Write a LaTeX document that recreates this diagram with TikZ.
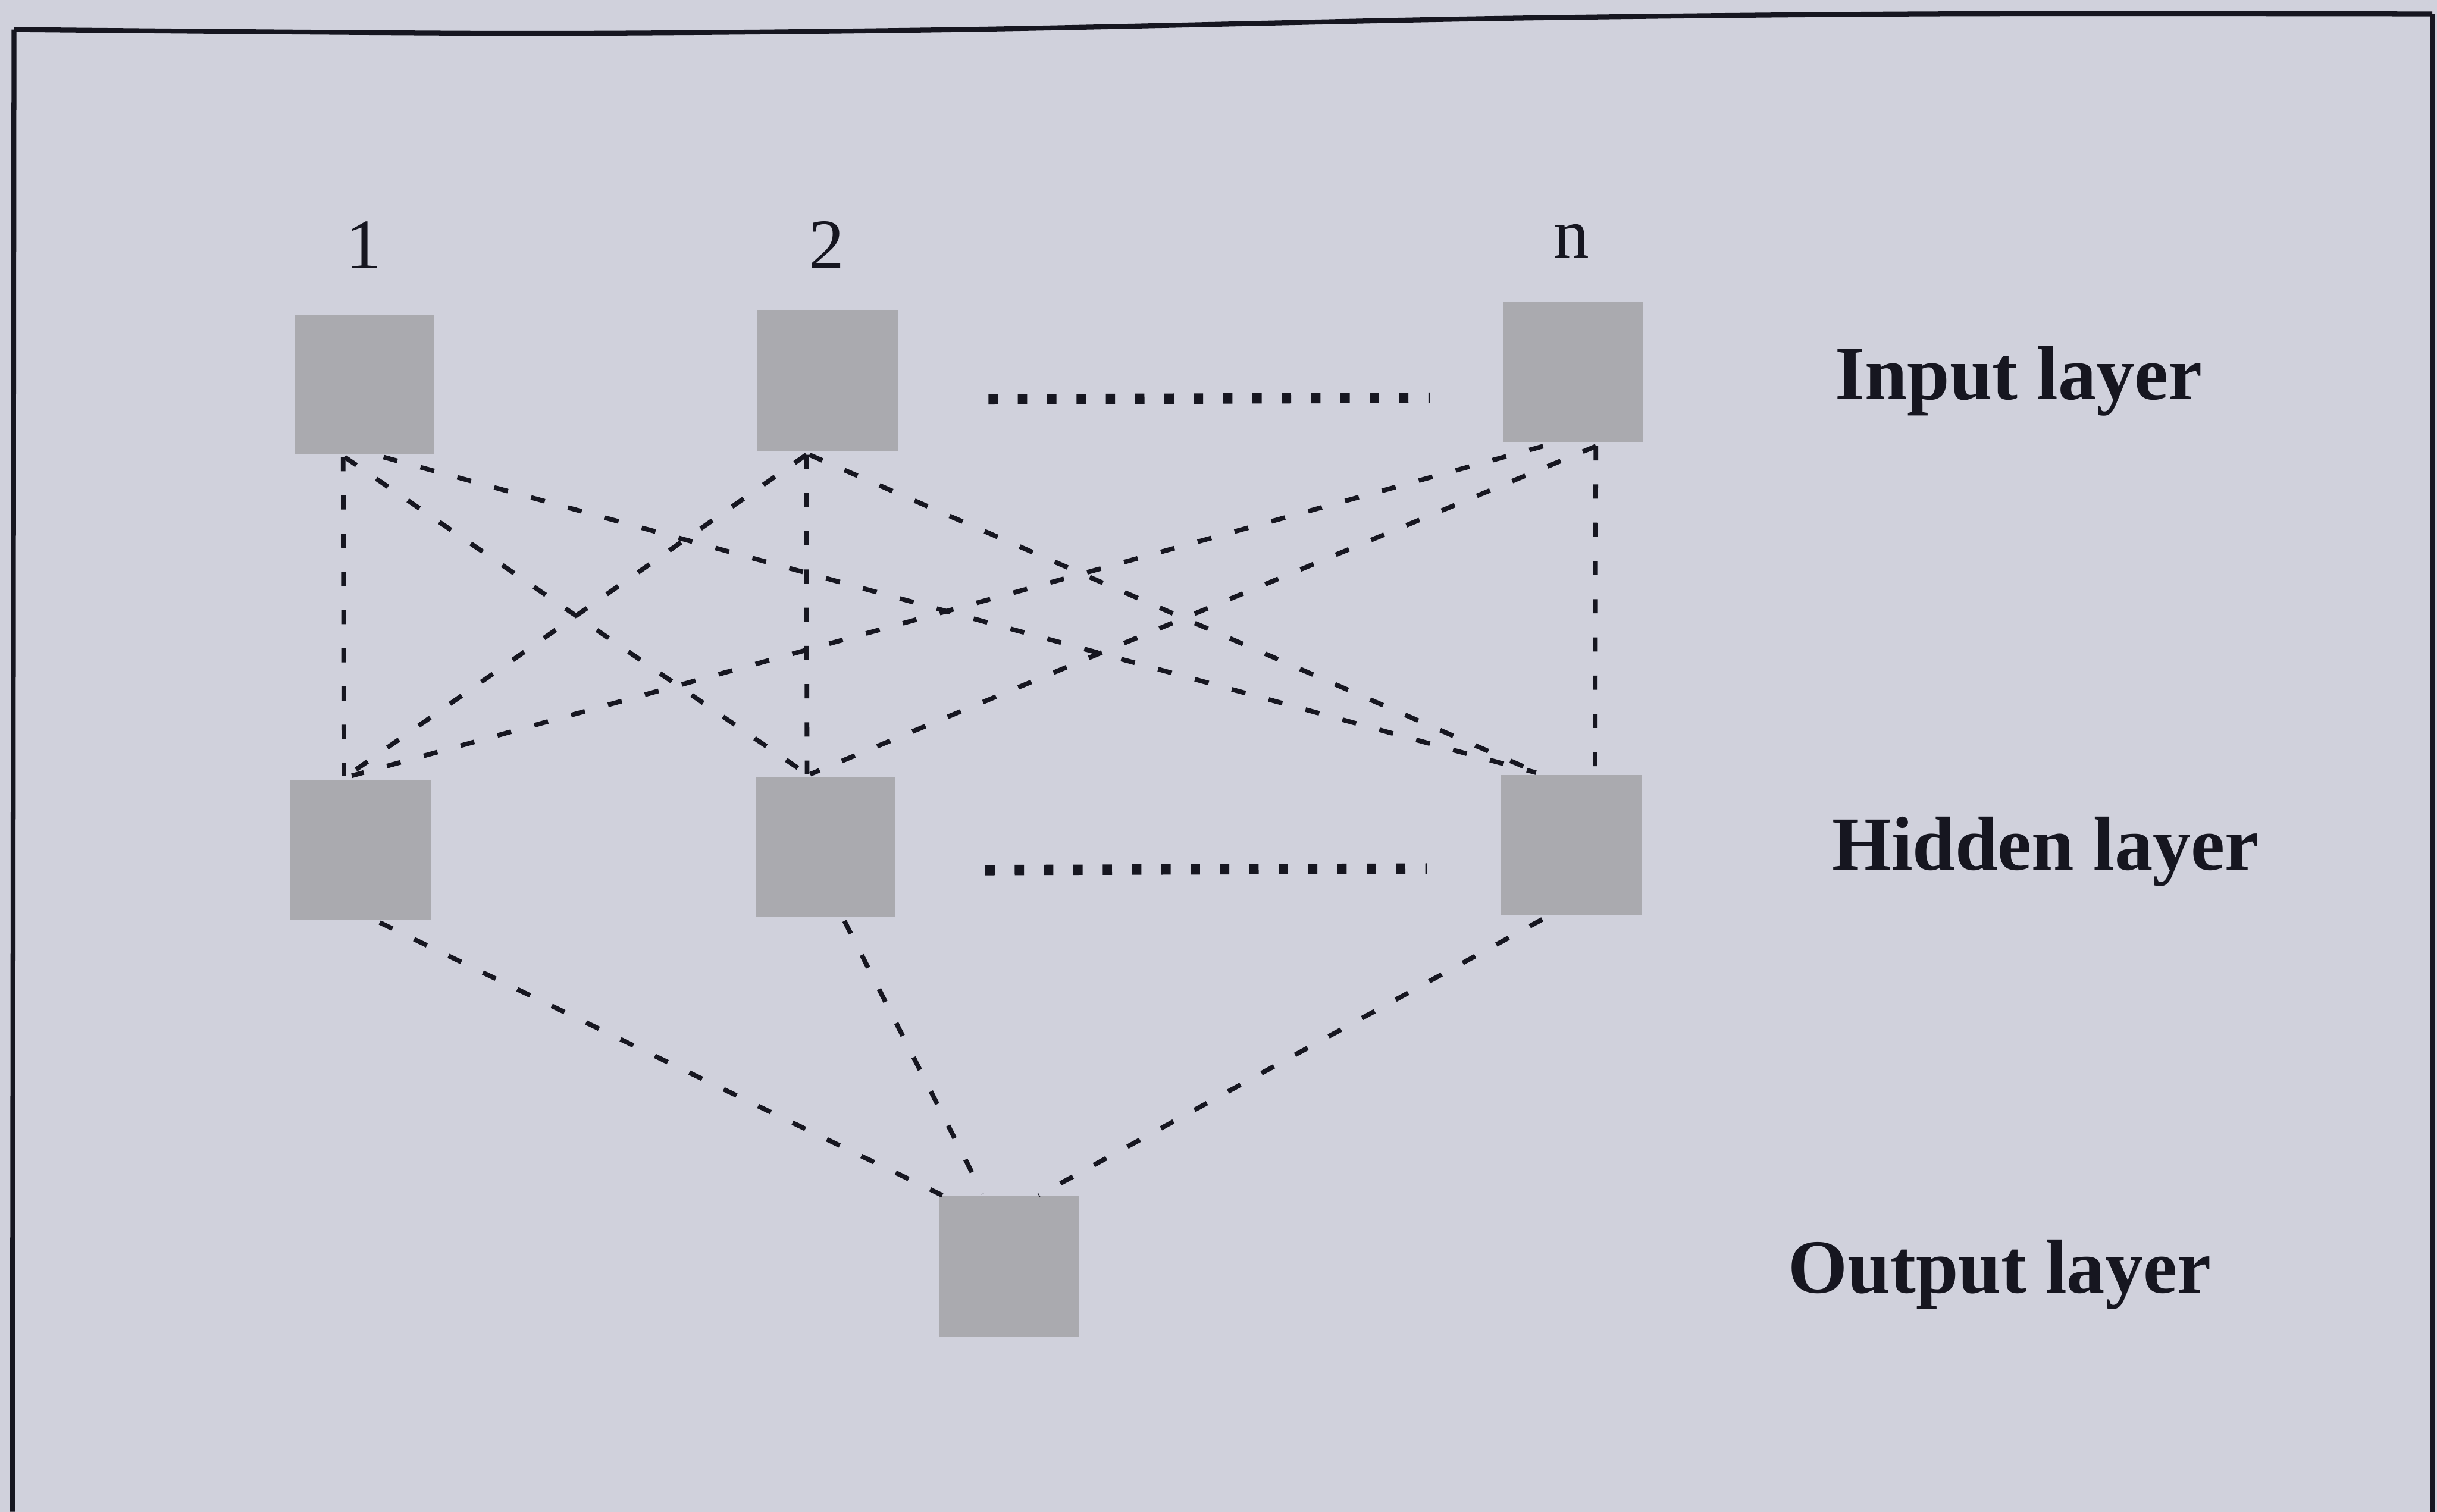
\documentclass[tikz,border=0pt]{standalone}
\usepackage{fontspec}
\setmainfont{Liberation Serif}
\usetikzlibrary{calc}
\definecolor{paper}{RGB}{208,209,220}
\definecolor{boxfill}{RGB}{170,170,175}
\definecolor{ink}{RGB}{22,22,32}
\begin{document}
\begin{tikzpicture}[x=0.1mm,y=-0.1mm,
  unit/.style={fill=boxfill,draw=none,inner sep=0pt,minimum width=9mm,minimum height=9mm},
  conn/.style={draw=ink,line width=0.85pt,dash pattern=on 2.6pt off 4.4pt},
  dotrow/.style={draw=ink,line width=1.9pt,dash pattern=on 1.7pt off 3.67pt},
  frameline/.style={draw=ink,line width=0.9pt},
  numlabel/.style={anchor=base,text=ink,font=\fontsize{13pt}{15pt}\selectfont,inner sep=0pt},
  layerlabel/.style={anchor=base west,text=ink,font=\fontsize{14pt}{16pt}\selectfont\bfseries,inner sep=0pt}]
  % background and bounding box
  \fill[paper] (0,0) rectangle (1568,973);
  \useasboundingbox (0,0) rectangle (1568,973);
  % frame
  \draw[frameline] plot[smooth] coordinates {(9,19) (338,21.5) (619,19) (957,12) (1239,9) (1565,9)};
  \draw[frameline] (9,19) -- (8,973);
  \draw[frameline] (1565,9) -- (1565,973);

  % units
  \node[unit] (i1) at (234.5,247.5) {};
  \node[unit] (i2) at (532.5,245) {};
  \node[unit] (in) at (1012.5,239.5) {};
  \node[unit] (h1) at (232,547) {};
  \node[unit] (h2) at (531,545) {};
  \node[unit] (hn) at (1011,544) {};
  \node[unit] (o)  at (649,815) {};

  % index labels
  \node[numlabel] (l1) at (234,173) {1};
  \node[numlabel] (l2) at (532,173) {2};
  \node[numlabel] (ln) at (1011,166) {n};

  % layer labels
  \node[layerlabel] (tin)  at (1180,257) {Input layer};
  \node[layerlabel] (thid) at (1178,560) {Hidden layer};
  \node[layerlabel] (tout) at (1150,832) {Output layer};

  % ellipsis rows
  \draw[dotrow] (636,257) -- (920,256);
  \draw[dotrow] (634,560) -- (918,559);

  % input -> hidden
  \draw[conn] ($(i1.south west)+(32,1)$) -- ($(h1.north west)+(35,-2)$);
  \draw[conn] ($(i1.south west)+(33,1)$) -- ($(h2.north west)+(34,-1)$);
  \draw[conn] ($(i1.south west)+(58,1)$) -- ($(hn.north west)+(23,-1)$);
  \draw[conn] ($(i2.south west)+(32,2)$) -- ($(h1.north west)+(37,-2)$);
  \draw[conn] ($(i2.south west)+(32,2)$) -- ($(h2.north west)+(34,-1)$);
  \draw[conn] ($(i2.south west)+(34,2)$) -- ($(hn.north west)+(24,-1)$);
  \draw[conn] ($(in.south west)+(26,2)$) -- ($(h1.north west)+(40,-2)$);
  \draw[conn] ($(in.south west)+(60,2)$) -- ($(h2.north west)+(36,-1)$);
  \draw[conn] ($(in.south west)+(60,2)$) -- ($(hn.north west)+(61,0)$);

  % hidden -> output
  \draw[conn] ($(h1.south west)+(58,1)$) -- ($(o.north west)+(3,0)$);
  \draw[conn] ($(h2.south west)+(58,2)$) -- ($(o.north west)+(29,-1)$);
  \draw[conn] ($(hn.south west)+(27,2)$) -- ($(o.north west)+(65,0)$);
\end{tikzpicture}
\end{document}
